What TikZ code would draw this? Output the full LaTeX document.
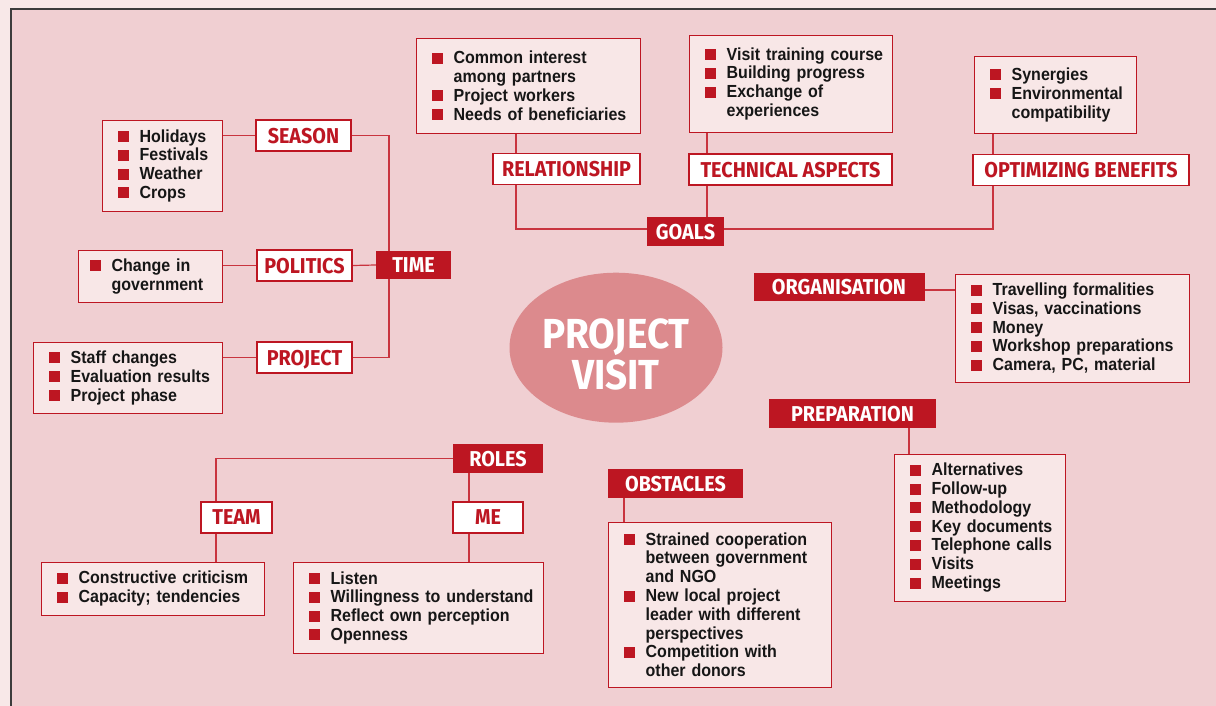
\documentclass[tikz,border=0pt]{standalone}
\usepackage{fontspec}
\usetikzlibrary{shapes.geometric,calc}
\setmainfont{Liberation Sans}[FakeStretch=0.915]
\newfontfamily\lblfam{Fira Sans}[FakeStretch=0.92]
\definecolor{outerbg}{HTML}{F8E8E8}
\definecolor{panel}{HTML}{F0CFD2}
\definecolor{boxfill}{HTML}{F8E7E7}
\definecolor{mred}{HTML}{BD1622}
\definecolor{linered}{HTML}{C9343F}
\definecolor{ellfill}{HTML}{DC8A8D}
\definecolor{frame}{HTML}{3C3C3C}
\definecolor{txt}{HTML}{161616}
\newcommand\bodyfont{\fontsize{17.5}{18.8}\selectfont\bfseries}
\newcommand\lblfont{\lblfam\bfseries\fontsize{21.5}{22}\selectfont}
\newcommand\ttlfont{\lblfam\bfseries\fontsize{42}{42}\selectfont}
\newcommand\itm[1]{\par\noindent\makebox[22pt][l]{\textcolor{mred}{\rule{11pt}{11pt}}}\mbox{#1}}
\newcommand\cnt[1]{\par\noindent\hspace*{22pt}\mbox{#1}}
\newcommand\listend{\par\vspace{7pt}}
\pgfdeclarelayer{back}
\pgfdeclarelayer{bg}
\pgfsetlayers{back,bg,main}
\begin{document}
\begin{tikzpicture}[x=1pt,y=-1pt,
  listbox/.style={draw=mred, fill=boxfill, line width=1.3pt, anchor=north west,
    inner xsep=15pt, inner ysep=0pt, align=left, font=\bodyfont, text=txt,
    execute at end node=\listend},
  lbl/.style={draw=mred, fill=white, line width=1.3pt, text=mred, font=\lblfont,
    inner sep=0pt, text depth=0pt},
  lblf/.style={fill=mred, text=white, font=\lblfont, inner sep=0pt, text depth=0pt},
  conn/.style={draw=linered, line width=1.2pt}]
\useasboundingbox (0,0) rectangle (1216,706);
\begin{pgfonlayer}{back}
\clip (0,0) rectangle (1216,706);
\fill[outerbg] (0,0) rectangle (1216,706);
\draw[frame, fill=panel, line width=2pt] (11,9) rectangle (1240,730);
\end{pgfonlayer}

% central ellipse
\node[ellipse, fill=ellfill, minimum width=213pt, minimum height=150pt, inner sep=0pt] (pv) at (616,347.7) {};
\node[text=white, font=\ttlfont, align=center, inner sep=0pt] (pvt) at ($(pv.center)+(0,7)$) {PROJECT\\[-1pt]VISIT};

% TIME branch
\node[listbox, text width=90pt, minimum height=91pt] (seasonL) at (102,120)
  {\itm{Holidays}\itm{Festivals}\itm{Weather}\itm{Crops}};
\node[listbox, inner xsep=11pt, text width=122pt, minimum height=52pt] (politicsL) at (78,250)
  {\itm{Change in}\cnt{government}};
\node[listbox, text width=159pt, minimum height=71pt] (projectL) at (33,342)
  {\itm{Staff changes}\itm{Evaluation results}\itm{Project phase}};
\node[lbl, minimum width=95pt, minimum height=31pt] (SEASON) at (303.5,135.5) {SEASON};
\node[lbl, minimum width=95pt, minimum height=31pt] (POLITICS) at (304.5,265.5) {POLITICS};
\node[lbl, minimum width=95pt, minimum height=31pt] (PROJECT) at (304.5,357.5) {PROJECT};
\node[lblf, minimum width=75pt, minimum height=28.5pt] (TIME) at (413.5,265) {TIME};

% GOALS branch
\node[listbox, text width=194pt, minimum height=95pt] (relL) at (416,38)
  {\itm{Common interest}\cnt{among partners}\itm{Project workers}\itm{Needs of beneficiaries}};
\node[listbox, text width=173pt, minimum height=97pt] (techL) at (689,35)
  {\itm{Visit training course}\itm{Building progress}\itm{Exchange of}\cnt{experiences}};
\node[listbox, text width=132pt, minimum height=77pt] (optL) at (974,56)
  {\itm{Synergies}\itm{Environmental}\cnt{compatibility}};
\node[lbl, minimum width=147pt, minimum height=30.5pt] (REL) at (566.5,169) {RELATIONSHIP};
\node[lbl, minimum width=203pt, minimum height=31pt] (TECH) at (790.5,169.5) {TECHNICAL ASPECTS};
\node[lbl, minimum width=216pt, minimum height=30.5pt] (OPT) at (1081,170) {OPTIMIZING BENEFITS};
\node[lblf, minimum width=77pt, minimum height=29pt] (GOALS) at (685.5,231.5) {GOALS};

% ORGANISATION
\node[lblf, minimum width=171pt, minimum height=28.6pt] (ORG) at (839,287) {ORGANISATION};
\node[listbox, text width=204pt, minimum height=108pt] (orgL) at (955,274)
  {\itm{Travelling formalities}\itm{Visas, vaccinations}\itm{Money}\itm{Workshop preparations}\itm{Camera, PC, material}};

% PREPARATION
\node[lblf, minimum width=167pt, minimum height=29pt] (PREP) at (852.5,413.5) {PREPARATION};
\node[listbox, text width=141pt, minimum height=147pt] (prepL) at (894,454)
  {\itm{Alternatives}\itm{Follow-up}\itm{Methodology}\itm{Key documents}\itm{Telephone calls}\itm{Visits}\itm{Meetings}};

% OBSTACLES
\node[lblf, minimum width=135pt, minimum height=29pt] (OBS) at (675.5,483.5) {OBSTACLES};
\node[listbox, text width=193pt, minimum height=165pt] (obsL) at (608,522)
  {\itm{Strained cooperation}\cnt{between government}\cnt{and NGO}\itm{New local project}\cnt{leader with different}\cnt{perspectives}\itm{Competition with}\cnt{other donors}};

% ROLES
\node[lblf, minimum width=90pt, minimum height=29pt] (ROLES) at (498,458.5) {ROLES};
\node[lbl, minimum width=71pt, minimum height=31pt] (TEAM) at (236.5,517.5) {TEAM};
\node[lbl, minimum width=70pt, minimum height=31pt] (ME) at (488,517.5) {ME};
\node[listbox, text width=193pt, minimum height=53pt] (teamL) at (41,562)
  {\itm{Constructive criticism}\itm{Capacity; tendencies}};
\node[listbox, text width=220pt, minimum height=91pt] (meL) at (293,562)
  {\itm{Listen}\itm{Willingness to understand}\itm{Reflect own perception}\itm{Openness}};

% trunk coordinates
\coordinate (trunk) at (389,0);
\coordinate (rx) at (516,0);
\coordinate (tx) at (707,0);
\coordinate (ox) at (993,0);
\coordinate (px) at (909,0);
\coordinate (bx) at (624,0);
\coordinate (tmx) at (216,0);
\coordinate (mx) at (469,0);

\begin{pgfonlayer}{bg}
\draw[conn] (seasonL.east |- SEASON.west) -- (SEASON.west);
\draw[conn] (SEASON.east) -| (trunk |- PROJECT.east) -- (PROJECT.east);
\draw[conn] (politicsL.east |- POLITICS.west) -- (POLITICS.west);
\draw[conn] (POLITICS.east) -- (TIME.west);
\draw[conn] (projectL.east |- PROJECT.west) -- (PROJECT.west);

\draw[conn] (rx |- relL.south) -- (rx |- REL.north);
\draw[conn] (rx |- REL.south) |- ($(GOALS.west)+(0,-2.5)$);
\draw[conn] (tx |- techL.south) -- (tx |- TECH.north);
\draw[conn] (tx |- TECH.south) -- (tx |- GOALS.north);
\draw[conn] (ox |- optL.south) -- (ox |- OPT.north);
\draw[conn] (ox |- OPT.south) |- ($(GOALS.east)+(0,-2.5)$);

\draw[conn] ($(ORG.east)+(0,3)$) -- ($(ORG.east -| orgL.west)+(0,3)$);
\draw[conn] (px |- PREP.south) -- (px |- prepL.north);
\draw[conn] (bx |- OBS.south) -- (bx |- obsL.north);

\draw[conn] (ROLES.west) -| (tmx |- TEAM.north);
\draw[conn] (tmx |- TEAM.south) -- (tmx |- teamL.north);
\draw[conn] (mx |- ROLES.south) -- (mx |- ME.north);
\draw[conn] (mx |- ME.south) -- (mx |- meL.north);
\end{pgfonlayer}
\end{tikzpicture}
\end{document}
